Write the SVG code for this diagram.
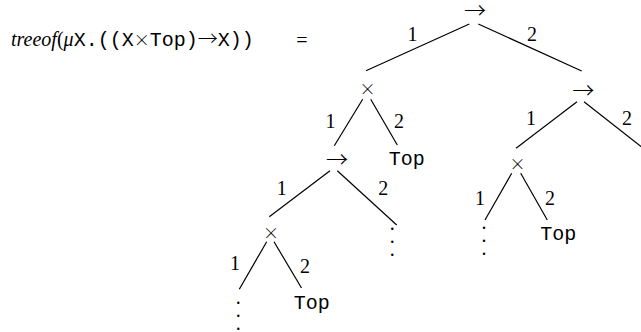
<svg xmlns="http://www.w3.org/2000/svg" width="641" height="332" viewBox="0 0 641 332">
<style>
text{font-family:"Liberation Serif",serif;font-size:20px;fill:#000}
.n{text-anchor:middle}
.m{font-family:"Liberation Mono",monospace}
.s{font-family:"Noto Sans CJK JP",sans-serif;font-weight:300}
.a{font-size:22px}
.x{font-size:16px}
.v{writing-mode:vertical-rl;text-orientation:upright;letter-spacing:-9px}
.e line{stroke:#000;stroke-width:1.2;fill:none}
</style>
<rect width="641" height="332" fill="#fff"/>
<g id="formula">
<text x="11" y="46"><tspan font-style="italic">treeof</tspan>(<tspan font-style="italic">μ</tspan><tspan class="m">X.((X</tspan><tspan class="s x">×</tspan><tspan class="m">Top)</tspan><tspan class="s">→</tspan><tspan class="m">X))</tspan></text>
<text class="n" x="302" y="47">=</text>
</g>
<g id="connectors" class="e">
<line x1="469.3" y1="24" x2="366" y2="70.7"/>
<line x1="478.3" y1="24" x2="581.7" y2="71"/>
<line x1="362.7" y1="99.3" x2="334.3" y2="145.7"/>
<line x1="370.7" y1="99.3" x2="397.3" y2="145"/>
<line x1="577" y1="101.7" x2="516" y2="148.3"/>
<line x1="584" y1="101.7" x2="650" y2="153.5"/>
<line x1="330" y1="170.7" x2="269.3" y2="216.7"/>
<line x1="337.3" y1="170.7" x2="396.7" y2="225"/>
<line x1="511.7" y1="173.3" x2="485" y2="220"/>
<line x1="520.7" y1="173.3" x2="547.3" y2="220"/>
<line x1="266.7" y1="241.7" x2="239.3" y2="289.3"/>
<line x1="274" y1="241.7" x2="301.5" y2="288"/>
</g>
<g id="labels">
<text class="n" x="412.5" y="40.7">1</text>
<text class="n" x="532" y="40.7">2</text>
<text class="n" x="330.5" y="128">1</text>
<text class="n" x="399" y="127.5">2</text>
<text class="n" x="531" y="125">1</text>
<text class="n" x="627" y="125">2</text>
<text class="n" x="281.7" y="195">1</text>
<text class="n" x="383.3" y="195">2</text>
<text class="n" x="480" y="205">1</text>
<text class="n" x="550" y="205">2</text>
<text class="n" x="235" y="270">1</text>
<text class="n" x="305" y="273">2</text>
</g>
<g id="root"><text class="n s a" x="475" y="17.7">→</text></g>
<g id="prodL1"><text class="n s x" x="367.5" y="95">×</text></g>
<g id="arrR1"><text class="n s a" x="583.3" y="97.7">→</text></g>
<g id="arrL2"><text class="n s a" x="337" y="167">→</text></g>
<g id="topL1"><text class="n m" x="406.7" y="165">Top</text></g>
<g id="prodR2"><text class="n s x" x="517.5" y="169.7">×</text></g>
<g id="dotsL2"><text class="v" x="392.3" y="212">...</text></g>
<g id="dotsR2"><text class="v" x="484" y="211">...</text></g>
<g id="topR2"><text class="n m" x="558.3" y="239.5">Top</text></g>
<g id="prodL3"><text class="n s x" x="271" y="239.4">×</text></g>
<g id="topL3"><text class="n m" x="311.7" y="309">Top</text></g>
<g id="dotsL3"><text class="v" x="238.3" y="286">...</text></g>
</svg>
